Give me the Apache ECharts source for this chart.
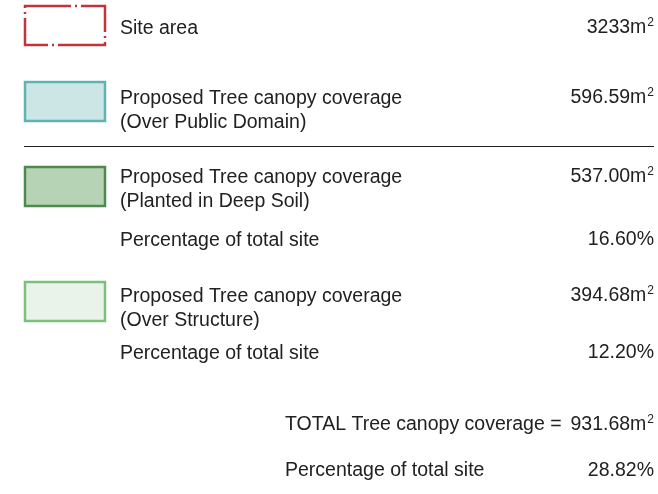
<!DOCTYPE html>
<html lang="en">
<head>
	<meta charset="UTF-8">
	<title>Tree canopy coverage</title>
	<script src="https://cdn.jsdelivr.net/npm/echarts@6/dist/echarts.min.js"></script>
	<style>
		html, body { margin: 0; padding: 0; background: #fff; }
		#main { width: 658px; height: 494px; }
	</style>
</head>
<body>
	<div id="main"></div>
	<script>
		// legend rows: label lines and value
		const rowLabels = [
			['Site area'],
			['Proposed Tree canopy coverage', '(Over Public Domain)'],
			['Proposed Tree canopy coverage', '(Planted in Deep Soil)'],
			['Percentage of total site'],
			['Proposed Tree canopy coverage', '(Over Structure)'],
			['Percentage of total site']
		];
		const rowValues = ['3233m²', '596.59m²', '537.00m²', '16.60%', '394.68m²', '12.20%'];
		const totalLabels = ['TOTAL Tree canopy coverage =', 'Percentage of total site'];
		const totalValues = ['931.68m²', '28.82%'];

		// swatch styles (null = no swatch)
		const swatches = [
			{ stroke: '#c0353a', fill: 'transparent', dash: [50, 4, 2, 4] },
			{ stroke: '#5fb3b1', fill: '#cce5e5' },
			{ stroke: '#4e8a4e', fill: '#b6d4b5' },
			null,
			{ stroke: '#7dbf7c', fill: '#e9f3e9' },
			null
		];
		const swatchTop = [6, 82, 167, null, 282, null];
		const rowY = [28.5, 98.5, 177.5, 240.5, 296.5, 353.5];
		const totalY = [424.5, 470.5];

		const textColor = '#222021';
		const fontFamily = '"Liberation Sans", Arial, sans-serif';
		const fontSize = 19.5;

		// turn "m²" into a rich superscript
		function valueStyle(v) {
			return {
				text: v.replace('²', '{sup|2}'),
				fontFamily: fontFamily, fontSize: fontSize, fill: textColor,
				lineHeight: 22,
				verticalAlign: 'middle', textAlign: 'right',
				rich: {
					sup: { fontFamily: fontFamily, fontSize: 12, fill: textColor, verticalAlign: 'top', lineHeight: 22, padding: [0, 0, 6, 1] }
				}
			};
		}

		var elements = [];
		rowLabels.forEach(function (lines, i) {
			const y = rowY[i];
			const sw = swatches[i];
			if (sw) {
				elements.push({
					type: 'rect',
					shape: { x: 25, y: swatchTop[i], width: 80, height: 39 },
					style: { fill: sw.fill, stroke: sw.stroke, lineWidth: 2.5, lineDash: sw.dash || null, lineDashOffset: sw.dash ? 4 : 0 }
				});
			}
			lines.forEach(function (line, k) {
				elements.push({
					type: 'text',
					x: 120, y: y + k * 24,
					style: { text: line, fontFamily: fontFamily, fontSize: fontSize, fill: textColor, verticalAlign: 'middle', textAlign: 'left' }
				});
			});
			elements.push({
				type: 'text',
				x: 654, y: y - 1,
				style: valueStyle(rowValues[i])
			});
		});

		elements.push({
			type: 'line',
			shape: { x1: 24, y1: 146.5, x2: 654, y2: 146.5 },
			style: { stroke: '#231f20', lineWidth: 1 }
		});

		totalLabels.forEach(function (label, i) {
			elements.push({
				type: 'text',
				x: 285, y: totalY[i],
				style: { text: label, fontFamily: fontFamily, fontSize: fontSize, fill: textColor, verticalAlign: 'middle', textAlign: 'left' }
			});
			elements.push({
				type: 'text',
				x: 654, y: totalY[i],
				style: valueStyle(totalValues[i])
			});
		});

		var myChart = echarts.init(document.getElementById('main'));
		myChart.setOption({
			animation: false,
			graphic: { elements: elements }
		});
	</script>
</body>
</html>
